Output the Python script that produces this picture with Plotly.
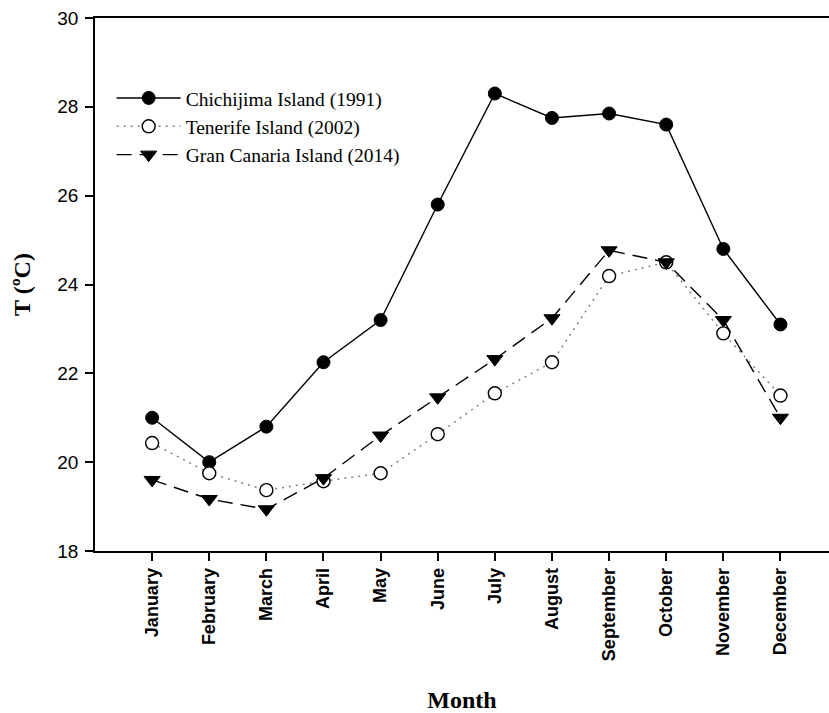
import plotly.graph_objects as go

# Monthly mean air temperature at three island sites
months = ["January", "February", "March", "April", "May", "June",
          "July", "August", "September", "October", "November", "December"]
chichijima_1991 = [21.0, 20.0, 20.8, 22.25, 23.2, 25.8, 28.3, 27.75, 27.85, 27.6, 24.8, 23.1]
tenerife_2002 = [20.43, 19.75, 19.37, 19.57, 19.75, 20.63, 21.55, 22.25, 24.19, 24.5, 22.9, 21.5]
gran_canaria_2014 = [19.6, 19.17, 18.94, 19.64, 20.6, 21.46, 22.32, 23.24, 24.77, 24.5, 23.2, 21.0]
y_ticks = [18, 20, 22, 24, 26, 28, 30]

fig = go.Figure()

fig.add_trace(go.Scatter(
    x=months, y=chichijima_1991, name="Chichijima Island (1991)",
    mode="lines+markers",
    line=dict(color="black", width=1.4),
    marker=dict(symbol="circle", size=13, color="black",
                line=dict(color="black", width=1)),
))
fig.add_trace(go.Scatter(
    x=months, y=tenerife_2002, name="Tenerife Island (2002)",
    mode="lines+markers",
    line=dict(color="#808080", width=1.5, dash="2px,5px"),
    marker=dict(symbol="circle", size=13, color="white",
                line=dict(color="black", width=1.4)),
))
fig.add_trace(go.Scatter(
    x=months, y=gran_canaria_2014, name="Gran Canaria Island (2014)",
    mode="lines+markers",
    line=dict(color="black", width=1.4, dash="15px,8px"),
    marker=dict(symbol="triangle-down", size=14, color="black",
                line=dict(color="black", width=1)),
))

fig.update_layout(
    width=829, height=713,
    margin=dict(l=95, r=0, t=18, b=162),
    paper_bgcolor="white", plot_bgcolor="white",
    showlegend=True,
    legend=dict(
        x=0.0227, y=0.886, xanchor="left", yanchor="top",
        bgcolor="rgba(0,0,0,0)", borderwidth=0,
        font=dict(family="Liberation Serif", size=19.5, color="black"),
        itemwidth=64, tracegroupgap=0,
    ),
    xaxis=dict(
        type="category",
        range=[-1, 11.85],
        showgrid=False, zeroline=False,
        showline=True, linecolor="black", linewidth=1.8, mirror=True,
        ticks="outside", ticklen=8, tickwidth=1.5, tickcolor="black",
        tickangle=-90,
        tickfont=dict(family="Liberation Sans", size=18, color="black", weight="bold"),
        title=dict(text="<b>Month</b>", standoff=34,
                   font=dict(family="Liberation Serif", size=24, color="black")),
    ),
    yaxis=dict(
        range=[18, 30],
        tickvals=y_ticks,
        showgrid=False, zeroline=False,
        showline=True, linecolor="black", linewidth=1.8,
        ticks="outside", ticklen=8, tickwidth=1.5, tickcolor="black",
        ticklabelstandoff=3,
        tickfont=dict(family="Liberation Sans", size=19, color="black"),
        title=dict(text="<b>T (ºC)</b>", standoff=20,
                   font=dict(family="Liberation Serif", size=24, color="black")),
    ),
)

fig.write_html("out.html")
